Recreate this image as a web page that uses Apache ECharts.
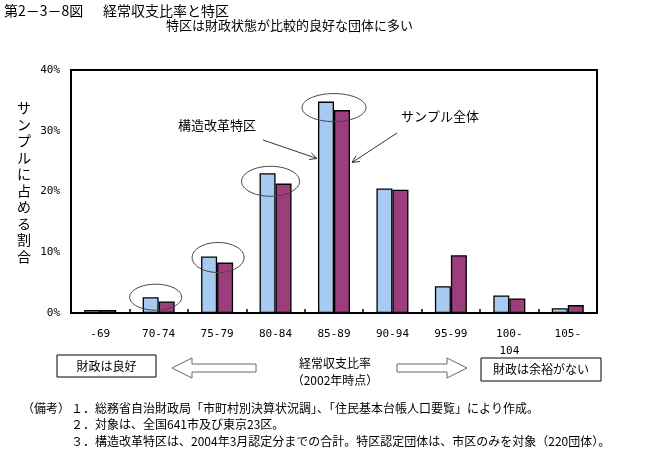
<!DOCTYPE html>
<html><head><meta charset="utf-8">
<script src="https://cdn.jsdelivr.net/npm/echarts@6/dist/echarts.min.js"></script>
<style>html,body{margin:0;padding:0;background:#fff}#c{width:667px;height:451px}</style>
</head><body><div id="c"></div>
<script>
// ---- data ----
const categories = ['-69', '70-74', '75-79', '80-84', '85-89', '90-94', '95-99', '100-\n104', '105-'];
const tokkuValues = [0.5, 2.6, 9.3, 23.0, 34.8, 20.5, 4.4, 2.9, 0.8];   // 構造改革特区
const sampleValues = [0.5, 1.9, 8.3, 21.3, 33.4, 20.3, 9.5, 2.4, 1.3];  // サンプル全体
const yTickValues = [0, 10, 20, 30, 40];
const circledCategories = ['70-74', '75-79', '80-84', '85-89'];
const seriesNames = ['構造改革特区', 'サンプル全体'];

const JP = '"Noto Sans CJK JP", sans-serif';
const MONO = '"DejaVu Sans Mono", monospace';

const chart = echarts.init(document.getElementById('c'), null, {renderer: 'canvas'});

const barBorder = {borderColor: '#000', borderWidth: 1.3};

chart.setOption({
  animation: false,
  backgroundColor: '#fff',
  grid: {left: 71, top: 70, width: 526, height: 243, show: true, borderColor: '#000', borderWidth: 2, containLabel: false},
  xAxis: {
    type: 'category',
    data: categories,
    boundaryGap: true,
    axisLine: {lineStyle: {color: '#000', width: 2}},
    axisTick: {show: true, inside: true, length: 4, lineStyle: {color: '#000', width: 1.5}},
    axisLabel: {color: '#000', fontFamily: MONO, fontSize: 11, margin: 13, lineHeight: 17, interval: 0}
  },
  yAxis: {
    type: 'value',
    min: yTickValues[0],
    max: yTickValues[yTickValues.length - 1],
    interval: yTickValues[1] - yTickValues[0],
    splitLine: {show: false},
    axisLine: {show: true, lineStyle: {color: '#000', width: 2}},
    axisTick: {show: false},
    axisLabel: {color: '#000', fontFamily: MONO, fontSize: 11, margin: 11, formatter: v => v + '%'}
  },
  series: [
    {name: seriesNames[0], type: 'bar', data: tokkuValues, barWidth: 16, barGap: '0%',
     itemStyle: Object.assign({color: '#A6CAF0'}, barBorder)},
    {name: seriesNames[1], type: 'bar', data: sampleValues, barWidth: 16, barGap: '0%',
     itemStyle: Object.assign({color: '#9C3D7D'}, barBorder)}
  ]
});

// ---- annotations ----
const ellipseStyle = [
  {dx: -3, dy: 0, rx: 26, ry: 13},
  {dx: 1, dy: 1, rx: 26, ry: 15},
  {dx: -5, dy: 8, rx: 29, ry: 15},
  {dx: 0, dy: 6, rx: 32, ry: 14}
];
const graphics = [];
circledCategories.forEach((cat, i) => {
  const idx = categories.indexOf(cat);
  const p = chart.convertToPixel({gridIndex: 0}, [idx, tokkuValues[idx]]);
  const s = ellipseStyle[i];
  graphics.push({
    type: 'ellipse', z: 100,
    shape: {cx: p[0] + s.dx, cy: p[1] + s.dy, rx: s.rx, ry: s.ry},
    style: {fill: 'none', stroke: '#444', lineWidth: 1}
  });
});

function arrow(x1, y1, x2, y2, head) {
  const a = Math.atan2(y2 - y1, x2 - x1);
  const h = head || 8, w = 0.45;
  return [
    {type: 'line', z: 100, shape: {x1, y1, x2, y2}, style: {stroke: '#333', lineWidth: 1}},
    {type: 'polyline', z: 100, shape: {points: [
      [x2 - h * Math.cos(a - w), y2 - h * Math.sin(a - w)], [x2, y2],
      [x2 - h * Math.cos(a + w), y2 - h * Math.sin(a + w)]]},
     style: {stroke: '#333', lineWidth: 1, fill: 'none'}}
  ];
}
graphics.push(...arrow(263, 140, 317, 158.5));
graphics.push(...arrow(397, 133, 352, 162.5));

function txt(x, y, text, size, opts) {
  return Object.assign({type: 'text', z: 100, x, y,
    style: Object.assign({text, fill: '#000', font: size + 'px ' + JP, textVerticalAlign: 'middle'}, opts || {})});
}
graphics.push(txt(178, 125, seriesNames[0], 13));
graphics.push(txt(401, 116, seriesNames[1], 13));

// titles
graphics.push(txt(4, 11, '第2－3－8図', 14));
graphics.push(txt(103, 11, '経常収支比率と特区', 14));
graphics.push(txt(166, 25, '特区は財政状態が比較的良好な団体に多い', 13));

// y axis name (vertical)
graphics.push(txt(24, 182, 'サンプルに占める割合'.split('').join('\n'), 14, {textAlign: 'center', lineHeight: 16.5}));

// bottom explanation row
graphics.push({type: 'rect', z: 100, shape: {x: 57, y: 355, width: 99, height: 22}, style: {fill: '#fff', stroke: '#000', lineWidth: 1}});
graphics.push(txt(106.5, 366, '財政は良好', 12, {textAlign: 'center'}));
graphics.push({type: 'rect', z: 100, shape: {x: 481, y: 358, width: 120, height: 23}, style: {fill: '#fff', stroke: '#000', lineWidth: 1}});
graphics.push(txt(541, 369.5, '財政は余裕がない', 12, {textAlign: 'center'}));
graphics.push({type: 'polygon', z: 100, shape: {points: [[172,368],[192,358],[192,364],[256,364],[256,372],[192,372],[192,378]]},
  style: {fill: '#fff', stroke: '#666', lineWidth: 1}});
graphics.push({type: 'polygon', z: 100, shape: {points: [[467,368],[447,358],[447,364],[397,364],[397,372],[447,372],[447,378]]},
  style: {fill: '#fff', stroke: '#666', lineWidth: 1}});
graphics.push(txt(335, 363, '経常収支比率', 12, {textAlign: 'center'}));
graphics.push(txt(335, 380, '（2002年時点）', 12, {textAlign: 'center'}));

// notes
graphics.push(txt(22, 408, '（備考）', 12));
graphics.push(txt(71, 408, '１．総務省自治財政局「市町村別決算状況調」、「住民基本台帳人口要覧」により作成。', 12));
graphics.push(txt(71, 424, '２．対象は、全国641市及び東京23区。', 12));
graphics.push(txt(71, 441, '３．構造改革特区は、2004年3月認定分までの合計。特区認定団体は、市区のみを対象（220団体）。', 12));

chart.setOption({graphic: graphics});
</script>
</body></html>
